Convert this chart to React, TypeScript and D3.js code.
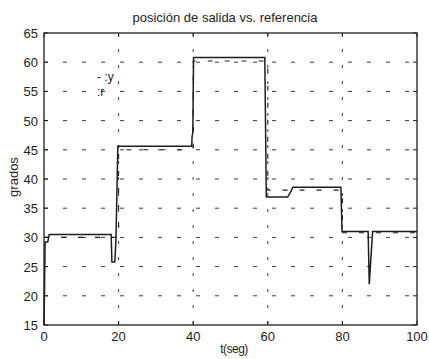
import { useEffect, useRef } from "react";
import * as d3 from "d3";

// output y (solid line): time (s) and angle (grados)
const tOut = [0, 0.3, 1.0, 1.4, 18.0, 18.2, 19.0, 19.3, 19.8, 39.6, 39.7, 39.9, 40.1, 59.2, 59.6, 65.3, 66.0, 66.7, 79.6, 79.9, 86.9, 87.2, 88.1, 100];
const yOut = [15, 29.2, 29.2, 30.5, 30.5, 25.8, 25.8, 30, 45.6, 45.6, 47.2, 48, 60.8, 60.8, 36.9, 36.9, 37.6, 38.6, 38.6, 31.0, 31.0, 22.0, 31.0, 31.0];

// reference r (dashed line)
const tRef = [0, 20, 20, 40, 40, 60, 60, 80, 80, 100];
const yRef = [30, 30, 45, 45, 60.2, 60.2, 38.1, 38.1, 30.8, 30.8];

const xTicks = [0, 20, 40, 60, 80, 100];
const yTicks = [15, 20, 25, 30, 35, 40, 45, 50, 55, 60, 65];

const W = 429;
const H = 359;
const margin = { left: 44, right: 12, top: 33, bottom: 34 };
const font = "'Liberation Sans', Arial, sans-serif";
const ink = "#1e1e1e";

export default function App() {
  const svgRef = useRef<SVGSVGElement>(null);

  useEffect(() => {
    if (!svgRef.current) return;
    const svg = d3.select(svgRef.current);
    svg.selectAll("*").remove();

    const x = d3.scaleLinear().domain([0, 100]).range([margin.left, W - margin.right]);
    const y = d3.scaleLinear().domain([15, 65]).range([H - margin.bottom, margin.top]);
    const [x0, x1] = x.range();
    const [y0, y1] = y.range();

    svg.append("rect").attr("width", W).attr("height", H).attr("fill", "#ffffff");

    // grid (MATLAB style, sparse dashes)
    const grid = svg.append("g").attr("stroke", "#3a3a3a").attr("stroke-width", 1);
    yTicks.slice(1, -1).forEach((v) => {
      grid
        .append("line")
        .attr("x1", x0)
        .attr("x2", x1)
        .attr("y1", y(v))
        .attr("y2", y(v))
        .attr("stroke-dasharray", "4 15");
    });
    xTicks.slice(1, -1).forEach((v) => {
      grid
        .append("line")
        .attr("x1", x(v))
        .attr("x2", x(v))
        .attr("y1", y1)
        .attr("y2", y0)
        .attr("stroke-dasharray", "3 13");
    });

    const refPts: [number, number][] = tRef.map((t, i) => [t, yRef[i]]);
    const outPts: [number, number][] = tOut.map((t, i) => [t, yOut[i]]);
    const path = d3
      .line<[number, number]>()
      .x((d) => x(d[0]))
      .y((d) => y(d[1]));

    // reference r
    svg
      .append("path")
      .attr("d", path(refPts))
      .attr("fill", "none")
      .attr("stroke", ink)
      .attr("stroke-width", 1.1)
      .attr("stroke-dasharray", "5 12");

    // output y
    svg
      .append("path")
      .attr("d", path(outPts))
      .attr("fill", "none")
      .attr("stroke", ink)
      .attr("stroke-width", 1.5);

    // axes box
    svg
      .append("rect")
      .attr("x", x0)
      .attr("y", y1)
      .attr("width", x1 - x0)
      .attr("height", y0 - y1)
      .attr("fill", "none")
      .attr("stroke", ink)
      .attr("stroke-width", 1.3);

    // ticks (inward, both sides)
    const tk = 4;
    xTicks.forEach((v) => {
      svg.append("line").attr("x1", x(v)).attr("x2", x(v)).attr("y1", y0).attr("y2", y0 - tk).attr("stroke", ink);
      svg.append("line").attr("x1", x(v)).attr("x2", x(v)).attr("y1", y1).attr("y2", y1 + tk).attr("stroke", ink);
      svg
        .append("text")
        .attr("x", x(v))
        .attr("y", y0 + 16)
        .attr("text-anchor", "middle")
        .attr("font-family", font)
        .attr("font-size", 13)
        .attr("fill", ink)
        .text(v);
    });
    yTicks.forEach((v) => {
      svg.append("line").attr("x1", x0).attr("x2", x0 + tk).attr("y1", y(v)).attr("y2", y(v)).attr("stroke", ink);
      svg.append("line").attr("x1", x1).attr("x2", x1 - tk).attr("y1", y(v)).attr("y2", y(v)).attr("stroke", ink);
      svg
        .append("text")
        .attr("x", x0 - 6)
        .attr("y", y(v) + 5)
        .attr("text-anchor", "end")
        .attr("font-family", font)
        .attr("font-size", 13)
        .attr("fill", ink)
        .text(v);
    });

    // title and labels
    svg
      .append("text")
      .attr("x", 225)
      .attr("y", 22)
      .attr("text-anchor", "middle")
      .attr("font-family", font)
      .attr("font-size", 13)
      .attr("fill", ink)
      .text("posición de salida vs. referencia");

    svg
      .append("text")
      .attr("x", 234)
      .attr("y", 353)
      .attr("text-anchor", "middle")
      .attr("font-family", font)
      .attr("font-size", 12)
      .attr("letter-spacing", -0.5)
      .attr("fill", ink)
      .text("t(seg)");

    svg
      .append("text")
      .attr("transform", `translate(18,177) rotate(-90)`)
      .attr("text-anchor", "middle")
      .attr("font-family", font)
      .attr("font-size", 13)
      .attr("fill", ink)
      .text("grados");

    // legend
    svg
      .append("text")
      .attr("x", 97)
      .attr("y", 81)
      .attr("font-family", font)
      .attr("font-size", 12)
      .attr("fill", ink)
      .text("- :y");
    svg
      .append("text")
      .attr("x", 97)
      .attr("y", 96)
      .attr("font-family", font)
      .attr("font-size", 12)
      .attr("fill", ink)
      .text(":r");
  }, []);

  return (
    <svg
      ref={svgRef}
      width={W}
      height={H}
      style={{ position: "absolute", left: 0, top: 0 }}
    />
  );
}
